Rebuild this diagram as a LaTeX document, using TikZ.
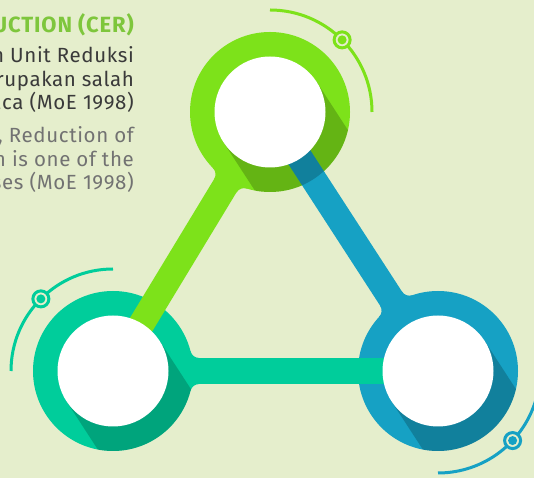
\documentclass[tikz,border=0pt]{standalone}
\usepackage{fontspec}
\setmainfont{Fira Sans}
\newfontfamily\bodyfont[LetterSpace=3]{Fira Sans}
\newfontfamily\titlefont[LetterSpace=4]{Fira Sans Bold}
\usetikzlibrary{calc}
\definecolor{bg}{HTML}{E5EECC}
\definecolor{cgreen}{HTML}{7DE21A}
\definecolor{cteal}{HTML}{00CD9B}
\definecolor{cblue}{HTML}{16A1C4}
\definecolor{ctitle}{HTML}{7EC63C}
\definecolor{cdark}{HTML}{3A3A3A}
\definecolor{cgray}{HTML}{727272}
\newcommand\myfillet[3]{%
  \fill[#3,shift={#1},rotate=#2] (0,0) -- (77.52,19.78) arc[start angle=194.31,end angle=270,radius=9] -- (86.24,0) -- cycle;
  \fill[#3,shift={#1},rotate=#2] (0,0) -- (77.52,-19.78) arc[start angle=165.69,end angle=90,radius=9] -- (86.24,0) -- cycle;}
\newcommand\myshadow[1]{%
  \begin{scope}[shift={#1}]
    \clip (0,0) circle[radius=80];
    \fill[black,opacity=0.2,rotate=-57] (0,-55.5) rectangle (220,55.5);
  \end{scope}}
\tikzset{
  ringnode/.style={circle,minimum size=160pt,inner sep=0pt,fill=#1},
  holenode/.style={circle,minimum size=111pt,inner sep=0pt,fill=white},
  barline/.style={line width=26pt,#1},
  orbit/.style={line width=3pt,#1},
  markring/.style={line width=3pt,draw=#1,fill=bg},
  txt/.style={anchor=base east,inner sep=0pt,font=\bodyfont\fontsize{20.5}{24}\selectfont},
  ttl/.style={anchor=base east,inner sep=0pt,font=\titlefont\fontsize{22}{24}\selectfont}
}
\begin{document}
\begin{tikzpicture}[x=1pt,y=1pt]
\fill[bg] (0,0) rectangle (534,478);
\useasboundingbox (0,0) rectangle (534,478);
\clip (0,0) rectangle (534,478);
% rings
\node[ringnode=cteal] (L) at (113,107) {};
\node[ringnode=cblue] (R) at (438,107) {};
\node[ringnode=cgreen] (T) at (270,366) {};
% fillets
\myfillet{(270,366)}{238.8}{cgreen}
\myfillet{(113,107)}{0}{cteal}
\myfillet{(438,107)}{123}{cblue}
% bars
\draw[barline=cgreen] (T.center) -- (L.center);
\draw[barline=cteal] (L.center) -- (R.center);
\draw[barline=cblue] (R.center) -- (T.center);
% shadows
\myshadow{(270,366)}
\myshadow{(113,107)}
\myshadow{(438,107)}
% holes
\node[holenode] (Th) at (T.center) {};
\node[holenode] (Lh) at (L.center) {};
\node[holenode] (Rh) at (R.center) {};
% orbits
\draw[orbit=cgreen] ($(T.center)+(90:102)$) arc[start angle=90,end angle=0,radius=102];
\draw[orbit=cteal] ($(L.center)+(90:102)$) arc[start angle=90,end angle=180,radius=102];
\draw[orbit=cblue] ($(R.center)+(270:102)$) arc[start angle=270,end angle=345,radius=102];
\coordinate (mT) at ($(T.center)+(45:102)$);
\coordinate (mL) at ($(L.center)+(135:102)$);
\coordinate (mR) at ($(R.center)+(-43:102)$);
\draw[markring=cgreen] (mT) circle[radius=8];
\fill[cgreen] (mT) circle[radius=4.5];
\draw[markring=cteal] (mL) circle[radius=8];
\fill[cteal] (mL) circle[radius=4.5];
\draw[markring=cblue] (mR) circle[radius=8];
\fill[cblue] (mR) circle[radius=4.5];
% text
\node[ttl,text=ctitle] (t1) at (134,445) {DUCTION (CER)};
\node[txt,text=cdark] (t2) at (134,415) {n Unit Reduksi};
\node[txt,text=cdark] (t3) at (134,391) {rupakan salah};
\node[txt,text=cdark] (t4) at (134,368) {aca (MoE 1998)};
\node[txt,text=cgray] (t5) at (134,335) {t, Reduction of};
\node[txt,text=cgray] (t6) at (134,311) {n is one of the};
\node[txt,text=cgray] (t7) at (134,288) {ses (MoE 1998)};
\end{tikzpicture}
\end{document}
